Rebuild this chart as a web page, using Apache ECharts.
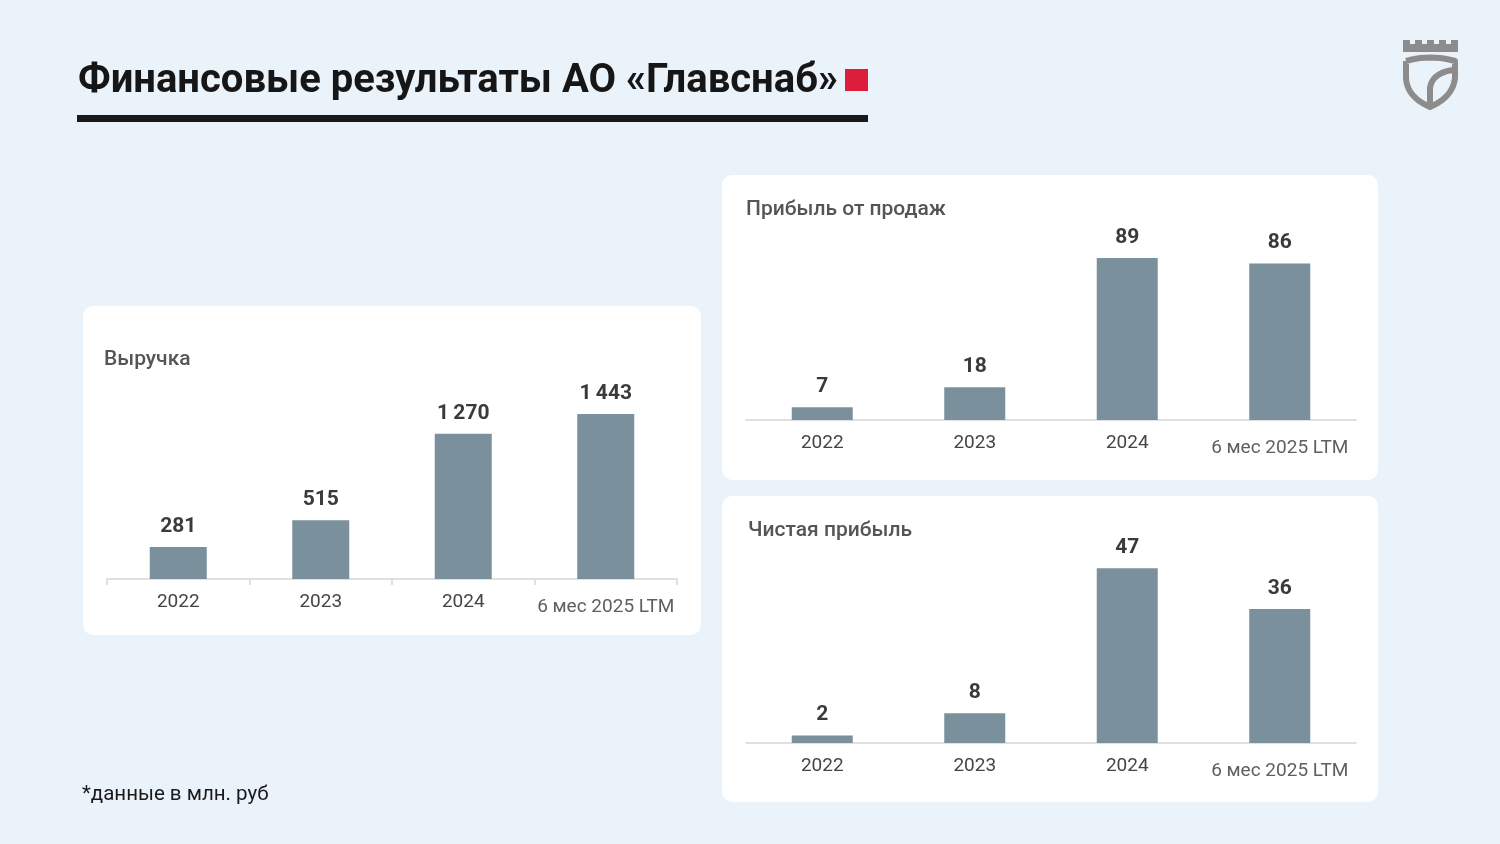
<!DOCTYPE html>
<html>
<head>
<meta charset="utf-8">
<script src="https://cdn.jsdelivr.net/npm/echarts@6/dist/echarts.min.js"></script>
<style>
html,body{margin:0;padding:0;background:#eaf2fa;}
#c{width:1500px;height:844px;}
</style>
</head>
<body>
<div id="c"></div>
<script>
const categories = ['2022', '2023', '2024', '6 мес 2025 LTM'];
const revenue = [281, 515, 1270, 1443];
const salesProfit = [7, 18, 89, 86];
const netProfit = [2, 8, 47, 36];
const titles = ['Выручка', 'Прибыль от продаж', 'Чистая прибыль'];
const mainTitle = 'Финансовые результаты АО «Главснаб»';
const footnote = '*данные в млн. руб';

const FONT = 'Roboto, "Noto Sans", sans-serif';
const BAR = '#7a909c';
const LOGO = '#8c8c8c';

function fmt(v) { return String(v).replace(/\B(?=(\d{3})+(?!\d))/g, '\u2009'); }

// quadratic bezier sampler for the decorative logo outline
function qb(p0, c, p1, n) {
  const out = [];
  for (let i = 1; i <= n; i++) {
    const t = i / n, u = 1 - t;
    out.push([u * u * p0[0] + 2 * u * t * c[0] + t * t * p1[0], u * u * p0[1] + 2 * u * t * c[1] + t * t * p1[1]]);
  }
  return out;
}
const shieldPts = [[1406, 61]]
  .concat(qb([1406, 61], [1430, 54], [1455, 61], 10))
  .concat([[1455, 78]])
  .concat(qb([1455, 78], [1453, 97], [1430, 107], 10))
  .concat(qb([1430, 107], [1407, 97], [1406, 78], 10))
  .concat([[1406, 61]]);
const leafPts = [[1430, 106], [1430, 88]].concat(qb([1430, 88], [1432, 73], [1453, 70], 10));
const crownPts = [[1403,40],[1410,40],[1410,44],[1415,44],[1415,40],[1422,40],[1422,44],[1427,44],[1427,40],[1434,40],[1434,44],[1439,44],[1439,40],[1446,40],[1446,44],[1451,44],[1451,40],[1458,40],[1458,52],[1403,52]];

function xAxis(gi, ticks) {
  return {
    type: 'category', gridIndex: gi, data: categories,
    axisLine: { lineStyle: { color: '#d6d6d6', width: 1.5 } },
    axisTick: { show: ticks, length: 6, lineStyle: { color: '#d6d6d6', width: 1.5 } },
    axisLabel: {
      interval: 0, margin: 14, fontFamily: FONT, fontSize: 19, color: '#454545',
      formatter: function (v) { return v.indexOf('LTM') >= 0 ? '{l|' + v + '}' : v; },
      rich: { l: { fontFamily: FONT, fontSize: 19, color: '#5f5f5f', padding: [5, 0, 0, 0] } }
    }
  };
}
function yAxis(gi, max) {
  return { type: 'value', gridIndex: gi, min: 0, max: max, show: false, splitLine: { show: false } };
}
function bars(gi, data) {
  return {
    type: 'bar', xAxisIndex: gi, yAxisIndex: gi, data: data, barWidth: '40%',
    itemStyle: { color: BAR }, silent: true,
    label: {
      show: true, position: 'top', distance: 10, fontFamily: FONT, fontSize: 21,
      fontWeight: 'bold', color: '#3a3a3a', formatter: function (p) { return fmt(p.value); }
    }
  };
}

const chart = echarts.init(document.getElementById('c'));
chart.setOption({
  backgroundColor: '#eaf2fa',
  animation: false,
  grid: [
    { left: 107, width: 570, top: 379, height: 200 },
    { left: 746, width: 610, top: 238, height: 182 },
    { left: 746, width: 610, top: 557, height: 186 }
  ],
  xAxis: [xAxis(0, true), xAxis(1, false), xAxis(2, false)],
  yAxis: [yAxis(0, 1750), yAxis(1, 100), yAxis(2, 50)],
  series: [bars(0, revenue), bars(1, salesProfit), bars(2, netProfit)],
  graphic: [
    { type: 'rect', z: -10, shape: { x: 83, y: 306, width: 618, height: 329, r: 10 }, style: { fill: '#fff' } },
    { type: 'rect', z: -10, shape: { x: 722, y: 175, width: 656, height: 305, r: 10 }, style: { fill: '#fff' } },
    { type: 'rect', z: -10, shape: { x: 722, y: 496, width: 656, height: 306, r: 10 }, style: { fill: '#fff' } },
    { type: 'text', style: { text: titles[0], x: 104, y: 360, verticalAlign: 'middle', fontFamily: FONT, fontSize: 21, fontWeight: 500, fill: '#555' } },
    { type: 'text', style: { text: titles[1], x: 746, y: 210, verticalAlign: 'middle', fontFamily: FONT, fontSize: 21, fontWeight: 500, fill: '#555' } },
    { type: 'text', style: { text: titles[2], x: 748, y: 531, verticalAlign: 'middle', fontFamily: FONT, fontSize: 21, fontWeight: 500, fill: '#555' } },
    { type: 'text', style: { text: mainTitle, x: 78, y: 82, verticalAlign: 'middle', fontFamily: FONT, fontSize: 40, fontWeight: 'bold', fill: '#161616' } },
    { type: 'rect', shape: { x: 845, y: 69, width: 23, height: 22 }, style: { fill: '#dc1e3c' } },
    { type: 'rect', shape: { x: 77, y: 115, width: 791, height: 7 }, style: { fill: '#1a1a1a' } },
    { type: 'text', style: { text: footnote, x: 82, y: 795, verticalAlign: 'middle', fontFamily: FONT, fontSize: 20.5, fill: '#1a1a1a' } },
    { type: 'polygon', shape: { points: crownPts }, style: { fill: LOGO } },
    { type: 'polyline', shape: { points: shieldPts }, style: { fill: null, stroke: LOGO, lineWidth: 6, lineJoin: 'round' } },
    { type: 'polyline', shape: { points: leafPts }, style: { fill: null, stroke: LOGO, lineWidth: 6 } }
  ]
});
</script>
</body>
</html>
